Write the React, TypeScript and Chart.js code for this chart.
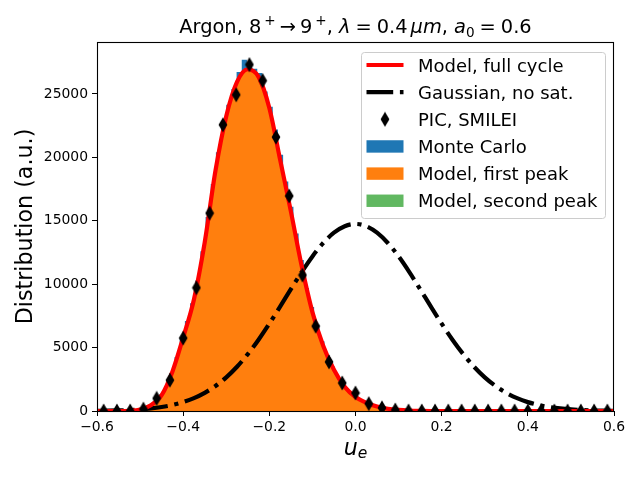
import React, { useEffect, useRef } from 'react'
import { Chart, registerables } from 'chart.js'

Chart.register(...registerables)

const FONT = '"DejaVu Sans", sans-serif'

// model curves and gaussian, sampled every 0.025
const modelX = [
  -0.6, -0.575, -0.55, -0.525, -0.5, -0.475, -0.45, -0.425, -0.4, -0.375,
  -0.35, -0.325, -0.3, -0.275, -0.25, -0.225, -0.2, -0.175, -0.15, -0.125,
  -0.1, -0.075, -0.05, -0.025, 0, 0.025, 0.05, 0.075, 0.1, 0.125,
  0.15, 0.175, 0.2, 0.225, 0.25, 0.275, 0.3, 0.325, 0.35, 0.375,
  0.4, 0.425, 0.45, 0.475, 0.5, 0.525, 0.55, 0.575, 0.6,
]
const modelFull = [
  0, 0, 0, 20, 120, 450, 1250, 3100, 5800, 8800,
  13300, 18950, 23250, 25950, 26950, 26350, 23900, 19830, 15740, 11450,
  7800, 5150, 3250, 1900, 1100, 650, 350, 180, 90, 40,
  15, 0, 0, 0, 0, 0, 0, 0, 0, 0,
  0, 0, 0, 0, 0, 0, 0, 0, 0,
]
const modelFirstPeak = [
  0, 0, 0, 20, 120, 450, 1250, 3100, 5800, 8800,
  13300, 18950, 23250, 25950, 26950, 26350, 23900, 19830, 15740, 11450,
  7800, 5150, 3250, 1900, 1100, 650, 350, 180, 90, 40,
  15, 0, 0, 0, 0, 0, 0, 0, 0, 0,
  0, 0, 0, 0, 0, 0, 0, 0, 0,
]
const modelSecondPeak = [
  0, 0, 0, 0, 0, 0, 0, 0, 0, 0,
  0, 0, 0, 0, 0, 0, 0, 0, 0, 0,
  0, 0, 0, 0, 0, 0, 0, 0, 0, 0,
  0, 0, 0, 0, 0, 0, 0, 0, 0, 0,
  0, 0, 0, 0, 0, 0, 0, 0, 0,
]
const gaussian = [
  15, 27, 46, 77, 126, 201, 312, 473, 700, 1013,
  1431, 1973, 2656, 3493, 4486, 5624, 6885, 8231, 9608, 10953,
  12193, 13251, 14064, 14575, 14750, 14575, 14064, 13251, 12193, 10953,
  9608, 8231, 6885, 5624, 4486, 3493, 2656, 1973, 1431, 1013,
  700, 473, 312, 201, 126, 77, 46, 27, 15,
]

// Monte Carlo histogram, bin centres
const mcX = [
  -0.594, -0.582, -0.57, -0.558, -0.546, -0.534, -0.522, -0.51, -0.498, -0.486,
  -0.474, -0.462, -0.45, -0.438, -0.426, -0.414, -0.402, -0.39, -0.378, -0.366,
  -0.354, -0.342, -0.33, -0.318, -0.306, -0.294, -0.282, -0.27, -0.258, -0.246,
  -0.234, -0.222, -0.21, -0.198, -0.186, -0.174, -0.162, -0.15, -0.138, -0.126,
  -0.114, -0.102, -0.09, -0.078, -0.066, -0.054, -0.042, -0.03, -0.018, -0.006,
  0.006, 0.018, 0.03, 0.042, 0.054, 0.066, 0.078, 0.09, 0.102, 0.114,
  0.126, 0.138, 0.15, 0.162, 0.174, 0.186, 0.198, 0.21, 0.222, 0.234,
  0.246, 0.258, 0.27, 0.282, 0.294, 0.306, 0.318, 0.33, 0.342, 0.354,
  0.366, 0.378, 0.39, 0.402, 0.414, 0.426, 0.438, 0.45, 0.462, 0.474,
  0.486, 0.498, 0.51, 0.522, 0.534, 0.546, 0.558, 0.57, 0.582, 0.594,
]
const monteCarlo = [
  0, 0, 0, 0, 0, 0, 0, 40, 130, 290,
  480, 830, 1300, 1950, 3000, 4250, 5650, 7100, 8500, 10300,
  12600, 15300, 17900, 20400, 22500, 24150, 25400, 26740, 27710, 27200,
  27000, 26660, 25200, 24000, 22200, 20200, 18100, 16100, 14000, 11900,
  9700, 8200, 6800, 5500, 4400, 3500, 2750, 2150, 1600, 1250,
  950, 720, 560, 420, 300, 220, 160, 100, 70, 40,
  25, 0, 0, 0, 0, 0, 0, 0, 0, 0,
  0, 0, 0, 0, 0, 0, 0, 0, 0, 0,
  0, 0, 0, 0, 0, 0, 0, 0, 0, 0,
  0, 0, 0, 0, 0, 0, 0, 0, 0, 0,
]

// PIC points
const picX = [
  -0.5846, -0.5538, -0.5231, -0.4923, -0.4615, -0.4308, -0.4, -0.3692, -0.3385, -0.3077,
  -0.2769, -0.2462, -0.2154, -0.1846, -0.1538, -0.1231, -0.0923, -0.0615, -0.0308, 0,
  0.0308, 0.0615, 0.0923, 0.1231, 0.1538, 0.1846, 0.2154, 0.2462, 0.2769, 0.3077,
  0.3385, 0.3692, 0.4, 0.4308, 0.4615, 0.4923, 0.5231, 0.5538, 0.5846,
]
const picValues = [
  0, 0, 0, 150, 1000, 2430, 5750, 9720, 15600, 22570,
  24940, 27320, 26050, 21600, 16960, 10720, 6690, 3870, 2210, 1420,
  580, 250, 80, 0, 0, 0, 0, 0, 0, 0,
  0, 0, 0, 0, 0, 0, 0, 0, 0,
]

const xTicks = [-0.6, -0.4, -0.2, 0, 0.2, 0.4, 0.6]
const yTicks = [0, 5000, 10000, 15000, 20000, 25000]

const legendLabels = [
  'Model, full cycle',
  'Gaussian, no sat.',
  'PIC, SMILEI',
  'Monte Carlo',
  'Model, first peak',
  'Model, second peak',
]

// gap = extra space before the piece, in px (mathtext spacing)
type Seg = { t: string; italic?: boolean; scale?: number; shift?: number; gap?: number }

const titleSegs: Seg[] = [
  { t: 'Argon, 8' },
  { t: '+', scale: 0.7, shift: -0.42, gap: 3 },
  { t: '\u2192', gap: 4 },
  { t: '9', gap: 4 },
  { t: '+', scale: 0.7, shift: -0.42, gap: 3 },
  { t: ', ' },
  { t: '\u03bb', italic: true },
  { t: '=', gap: 5 },
  { t: '0.4', gap: 5 },
  { t: '\u03bcm', italic: true, gap: 3 },
  { t: ', ' },
  { t: 'a', italic: true },
  { t: '0', scale: 0.7, shift: 0.2 },
  { t: '=', gap: 5 },
  { t: '0.6', gap: 5 },
]
const xLabelSegs: Seg[] = [
  { t: 'u', italic: true },
  { t: 'e', italic: true, scale: 0.7, shift: 0.15 },
]
const yLabel = 'Distribution (a.u.)'

const RED = '#ff0000'
const BLUE = '#1f77b4'
const ORANGE = '#ff7f0e'
const GREEN = 'rgba(44,160,44,0.75)'
const DASHDOT = [26.7, 6.7, 4.2, 6.7]

const zip = (xs: number[], ys: number[]) => xs.map((x, i) => ({ x, y: ys[i] }))

function thinDiamond() {
  const c = document.createElement('canvas')
  c.width = 10
  c.height = 16
  const g = c.getContext('2d')!
  g.fillStyle = '#000'
  g.beginPath()
  g.moveTo(5, 0.6)
  g.lineTo(9.4, 8)
  g.lineTo(5, 15.4)
  g.lineTo(0.6, 8)
  g.closePath()
  g.fill()
  return c
}

function drawRich(ctx: CanvasRenderingContext2D, segs: Seg[], cx: number, y: number, size: number) {
  const fontOf = (s: Seg) => `${s.italic ? 'italic ' : ''}${size * (s.scale ?? 1)}px ${FONT}`
  let total = 0
  for (const s of segs) {
    ctx.font = fontOf(s)
    total += ctx.measureText(s.t).width + (s.gap ?? 0)
  }
  let x = cx - total / 2
  ctx.textAlign = 'left'
  ctx.textBaseline = 'alphabetic'
  for (const s of segs) {
    ctx.font = fontOf(s)
    x += s.gap ?? 0
    ctx.fillText(s.t, x, y + (s.shift ?? 0) * size)
    x += ctx.measureText(s.t).width
  }
}

const App: React.FC = () => {
  const ref = useRef<HTMLCanvasElement | null>(null)

  useEffect(() => {
    document.body.style.margin = '0'
    if (!ref.current) return
    const diamond = thinDiamond()

    const framePlugin = {
      id: 'frame',
      afterDatasetsDraw(chart: Chart) {
        const { ctx, chartArea: a } = chart
        ctx.save()
        ctx.strokeStyle = '#000'
        ctx.lineWidth = 1.1
        ctx.strokeRect(a.left + 0.5, a.top + 0.5, a.right - a.left - 1, a.bottom - a.top)
        ctx.restore()
      },
    }

    const textPlugin = {
      id: 'texts',
      afterDraw(chart: Chart) {
        const { ctx, chartArea: a } = chart
        const cx = (a.left + a.right) / 2
        ctx.save()
        ctx.fillStyle = '#000'
        drawRich(ctx, titleSegs, cx, 33, 19.4)
        drawRich(ctx, xLabelSegs, cx, 455, 22.2)

        ctx.save()
        ctx.translate(32, (a.top + a.bottom) / 2)
        ctx.rotate(-Math.PI / 2)
        ctx.font = `22.2px ${FONT}`
        ctx.textAlign = 'center'
        ctx.textBaseline = 'alphabetic'
        ctx.fillText(yLabel, 0, 0)
        ctx.restore()

        // legend box
        const bx = 361, by = 52, bw = 244, bh = 166
        ctx.beginPath()
        ctx.roundRect(bx + 0.5, by + 0.5, bw, bh, 3)
        ctx.fillStyle = 'rgba(255,255,255,0.8)'
        ctx.fill()
        ctx.strokeStyle = '#cccccc'
        ctx.lineWidth = 1
        ctx.stroke()

        const hx0 = 366.5, hx1 = 403.5
        legendLabels.forEach((label, i) => {
          const ry = 65 + i * 27.15
          ctx.save()
          if (i === 0 || i === 1) {
            ctx.beginPath()
            ctx.moveTo(hx0, ry)
            ctx.lineTo(hx1, ry)
            ctx.lineWidth = 4.2
            ctx.lineCap = 'butt'
            ctx.strokeStyle = i === 0 ? RED : '#000'
            if (i === 1) ctx.setLineDash(DASHDOT)
            ctx.stroke()
          } else if (i === 2) {
            ctx.drawImage(diamond, (hx0 + hx1) / 2 - 5, ry - 8)
          } else {
            ctx.fillStyle = i === 3 ? BLUE : i === 4 ? ORANGE : GREEN
            ctx.fillRect(hx0, ry - 6.2, hx1 - hx0, 12.4)
          }
          ctx.restore()
          ctx.fillStyle = '#000'
          ctx.font = `18px ${FONT}`
          ctx.textAlign = 'left'
          ctx.textBaseline = 'alphabetic'
          ctx.fillText(label, 418, ry + 6.5)
        })
        ctx.restore()
      },
    }

    const chart = new Chart(ref.current, {
      type: 'line',
      data: {
        datasets: [
          {
            label: legendLabels[2],
            data: zip(picX, picValues),
            showLine: false,
            pointStyle: diamond,
            pointRadius: 6,
            order: 0,
            clip: 0,
          },
          {
            label: legendLabels[0],
            data: zip(modelX, modelFull),
            borderColor: RED,
            borderWidth: 4.2,
            pointRadius: 0,
            cubicInterpolationMode: 'monotone',
            order: 1,
            clip: 0,
          },
          {
            label: legendLabels[1],
            data: zip(modelX, gaussian),
            borderColor: '#000',
            borderWidth: 4.2,
            borderDash: DASHDOT,
            borderCapStyle: 'butt',
            pointRadius: 0,
            cubicInterpolationMode: 'monotone',
            order: 2,
            clip: 0,
          },
          {
            label: legendLabels[5],
            data: zip(modelX, modelSecondPeak),
            borderWidth: 0,
            borderColor: 'rgba(0,0,0,0)',
            backgroundColor: GREEN,
            fill: 'origin',
            pointRadius: 0,
            order: 3,
            clip: 0,
          },
          {
            label: legendLabels[4],
            data: zip(modelX, modelFirstPeak),
            borderWidth: 0,
            borderColor: 'rgba(0,0,0,0)',
            backgroundColor: ORANGE,
            fill: 'origin',
            pointRadius: 0,
            cubicInterpolationMode: 'monotone',
            order: 4,
            clip: 0,
          },
          {
            label: legendLabels[3],
            data: zip(mcX, monteCarlo),
            borderWidth: 0,
            borderColor: 'rgba(0,0,0,0)',
            backgroundColor: BLUE,
            fill: 'origin',
            stepped: 'middle',
            pointRadius: 0,
            order: 5,
            clip: 0,
          },
        ],
      },
      options: {
        responsive: false,
        animation: false,
        events: [],
        layout: { padding: { top: 42, right: 26, left: 0, bottom: 0 } },
        plugins: {
          legend: { display: false },
          title: { display: false },
          tooltip: { enabled: false },
        },
        scales: {
          x: {
            type: 'linear',
            min: -0.6,
            max: 0.6,
            border: { display: false },
            grid: { drawOnChartArea: false, drawTicks: true, tickLength: 5, color: '#000', lineWidth: 1 },
            afterBuildTicks: (s) => {
              s.ticks = xTicks.map((value) => ({ value }))
            },
            ticks: {
              color: '#000',
              padding: 3,
              font: { family: FONT, size: 13.9 },
              maxRotation: 0,
              autoSkip: false,
              callback: (v) => {
                const n = Number(v)
                const s = Math.abs(n) < 1e-9 ? '0.0' : n.toFixed(1)
                return s.replace('-', '\u2212')
              },
            },
            afterFit: (s) => {
              s.height = 67
            },
          },
          y: {
            min: 0,
            max: 29100,
            border: { display: false },
            grid: { drawOnChartArea: false, drawTicks: true, tickLength: 5, color: '#000', lineWidth: 1 },
            afterBuildTicks: (s) => {
              s.ticks = yTicks.map((value) => ({ value }))
            },
            ticks: {
              color: '#000',
              padding: 4,
              autoSkip: false,
              font: { family: FONT, size: 13.9 },
              callback: (v) => String(v),
            },
            afterFit: (s) => {
              s.width = 97
            },
          },
        },
      },
      plugins: [framePlugin, textPlugin],
    })
    return () => chart.destroy()
  }, [])

  return (
    <div style={{ width: 640, height: 478 }}>
      <canvas ref={ref} width={640} height={478} />
    </div>
  )
}

export default App
